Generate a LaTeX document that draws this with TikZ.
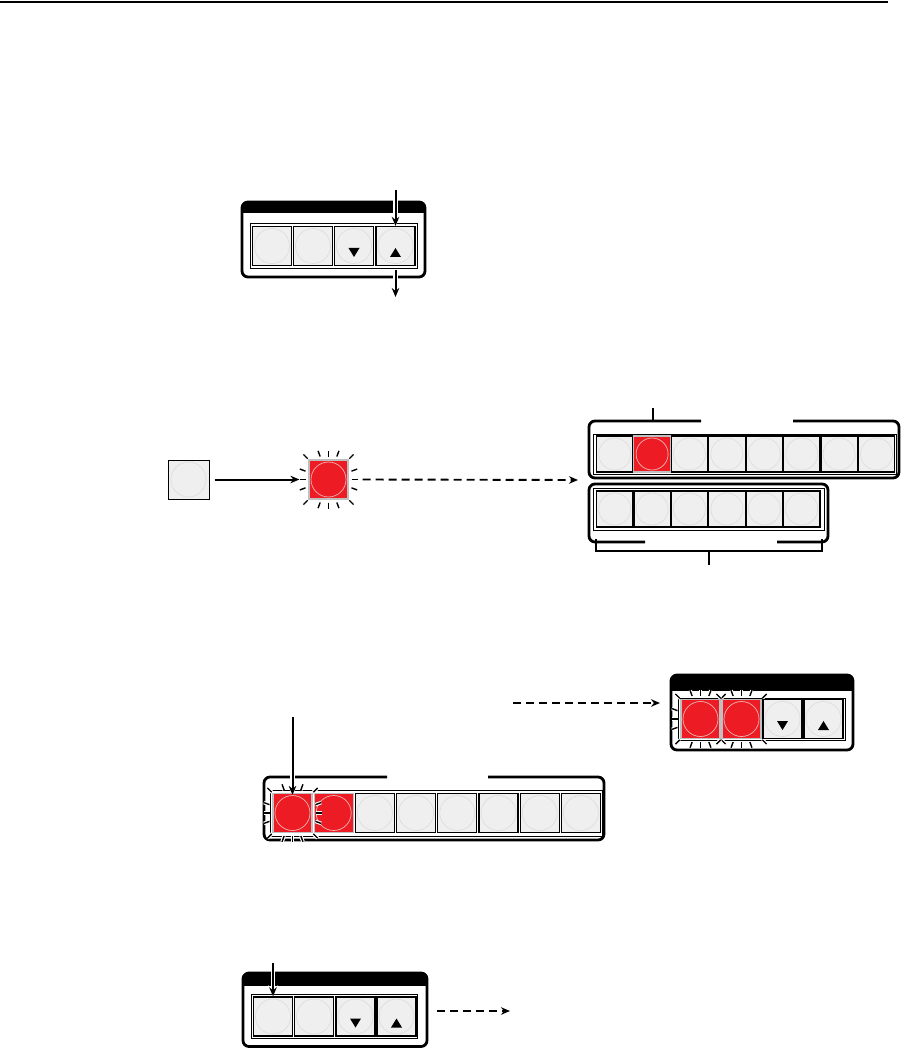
\documentclass[tikz,border=0pt]{standalone}
\usetikzlibrary{arrows.meta,calc}
\definecolor{bgray}{HTML}{EFEFEF}
\definecolor{cgray}{HTML}{DCDCDC}
\definecolor{bred}{HTML}{ED1C24}
\definecolor{cpink}{HTML}{F4B4B4}
\def\crad{17.5pt}
\tikzset{
 btn/.style={draw=black, line width=1.3pt, fill=bgray, minimum width=39pt, minimum height=39pt, inner sep=0pt,
   path picture={\draw[cgray, line width=0.6pt] (path picture bounding box.center) circle (\crad);}},
 rbtn/.style={draw=black!25, line width=1.2pt, fill=bred, minimum width=39pt, minimum height=39pt, inner sep=0pt,
   path picture={\draw[cpink, line width=0.7pt] (path picture bounding box.center) circle (\crad);}},
 frame/.style={line width=2.8pt, rounded corners=6pt},
 thinframe/.style={line width=0.9pt},
 arr/.style={line width=2pt, -{Stealth[length=9pt,width=7.5pt]}},
 harr/.style={arr, preaction={draw=white, line width=4.5pt, -{Stealth[length=11pt,width=10pt]}}},
 darr/.style={line width=1.9pt, dash pattern=on 8pt off 5pt, -{Stealth[length=9pt,width=7.5pt]}},
 ray/.style={line width=1.4pt, preaction={draw=white, line width=3.6pt}},
 leader/.style={line width=1.7pt},
}
\newcommand\glowat[1]{%
 \foreach \a in {0,20,45,70,90,110,135,160,180,200,225,250,270,290,315,340}{%
   \pgfmathsetmacro\mm{max(abs(cos(\a)),abs(sin(\a)))}%
   \pgfmathsetmacro\ra{min(23/\mm,29.5)}%
   \pgfmathsetmacro\rb{\ra+6}%
   \draw[ray] ($(#1)+(\a:\ra pt)$) -- ($(#1)+(\a:\rb pt)$);
 }}
\newcommand\trdown[1]{\fill ($(#1)+(-5.5,2)$) -- ++(11,0) -- ++(-5.5,9) -- cycle;}
\newcommand\trup[1]{\fill ($(#1)+(-5.5,11)$) -- ++(11,0) -- ++(-5.5,-9) -- cycle;}
\newcommand\hdrbox[5]{% x1 y1 x2 y2 headerbottom
 \begin{scope}
  \clip (#1,#2) rectangle (#3,#5);
  \fill[rounded corners=6pt] (#1,#2) rectangle (#3,#4);
 \end{scope}
 \draw[frame] (#1,#2) rectangle (#3,#4);}
\begin{document}
\begin{tikzpicture}[x=1pt,y=-1pt]
\useasboundingbox (0,0) rectangle (901,1048);
% top rule
\coordinate (r1) at (0,2);
\coordinate (r2) at (888,2);
\draw[line width=2.8pt] (r1) -- (r2);

% ---------- panel 1 ----------
\hdrbox{242}{202}{425}{277}{213}
\draw[thinframe] (250,223) rectangle (417,268);
\node[btn] (p1a) at (272,246) {};
\node[btn] (p1b) at (313,246) {};
\node[btn] (p1c) at (354,246) {};
\node[btn] (p1d) at (395.5,246) {};
\trdown{p1c}
\trup{p1d}
\coordinate (p1in) at (395.5,190);
\coordinate (p1out) at (395.5,297);
\draw[harr] (p1in) -- (p1d.north);
\draw[harr] ([yshift=-4pt]p1d.south) -- (p1out);

% ---------- panel 2 ----------
\node[btn, line width=1pt, minimum width=41pt] (p2a) at (188.5,479.5) {};
\path (328.5,479.5) coordinate (p2rc);
\glowat{p2rc}
\node[rbtn] (p2r) at (p2rc) {};
\draw[arr] ([xshift=5pt]p2a.east) -- ([xshift=-9pt]p2r.west);
\coordinate (p2tgt) at (578,480);
\draw[darr] ([xshift=14pt]p2r.east) -- (p2tgt);

\draw[frame] (701,421) -| (589,478) -| (899,421) -- (793,421);
\draw[thinframe] (593,434) rectangle (896,474);
\begin{scope}
\def\crad{16pt}
\foreach \i in {0,...,7}{
  \ifnum\i=1
    \node[rbtn, minimum width=36.5pt, minimum height=36pt] (u\i) at ({614.7+\i*37.4},454) {};
  \else
    \node[btn, minimum width=36.5pt, minimum height=36pt] (u\i) at ({614.7+\i*37.4},454) {};
  \fi
}
\end{scope}
\coordinate (t1) at (653,408);
\coordinate (t2) at (653,421);
\draw[leader] (t1) -- (t2);

\draw[frame] (645,542) -| (589,484) -| (828,542) -- (777,542);
\draw[thinframe] (593,488) rectangle (824,530);
\begin{scope}
\def\crad{16pt}
\foreach \i in {0,...,5}{
  \node[btn, minimum width=36.5pt, minimum height=36pt] (l\i) at ({614.7+\i*37.4},509) {};
}
\end{scope}
\coordinate (k1) at (596,539);
\coordinate (k2) at (596,551);
\coordinate (k3) at (822,551);
\coordinate (k4) at (822,539);
\coordinate (k5) at (709,551);
\coordinate (k6) at (709,565);
\draw[leader] (k1) -- (k2) -- (k3) -- (k4);
\draw[leader] (k5) -- (k6);

% ---------- panel 3 ----------
\coordinate (p3ds) at (513,703);
\coordinate (p3de) at (660,703);
\draw[darr] (p3ds) -- (p3de);

\hdrbox{671}{675}{853}{750}{690}
\draw[thinframe] (678,698) rectangle (845,740);
\coordinate (q1) at (700.5,719);
\coordinate (q2) at (741.5,719);
\glowat{q1}
\glowat{q2}
\node[rbtn] (p3r1) at (q1) {};
\node[rbtn] (p3r2) at (q2) {};
\node[btn] (p3r3) at (782.5,719) {};
\node[btn] (p3r4) at (823.5,719) {};
\trdown{p3r3}
\trup{p3r4}

\draw[frame] (387,777) -| (264,840) -| (604,777) -- (488,777);
\draw[thinframe] (270,790) rectangle (602,836);
\node[rbtn] (p3b2) at (333.7,813) {};
\foreach \i in {2,...,7}{
  \node[btn] (p3b\i x) at ({292.5+\i*41.2},813) {};
}
\coordinate (g1) at (292.5,813);
\glowat{g1}
\node[rbtn] (p3b1) at (g1) {};
\coordinate (p3in) at (292.5,717);
\draw[harr] (p3in) -- ([yshift=-2pt]p3b1.north);

% ---------- panel 4 ----------
\hdrbox{243}{973}{427}{1046.5}{985}
\draw[thinframe] (251,994) rectangle (417,1038);
\node[btn] (p4a) at (273,1016.5) {};
\node[btn] (p4b) at (314,1016.5) {};
\node[btn] (p4c) at (355.5,1016.5) {};
\node[btn] (p4d) at (396.5,1016.5) {};
\trdown{p4c}
\trup{p4d}
\coordinate (p4in) at (273,963);
\draw[harr] (p4in) -- (p4a.north);
\coordinate (p4ds) at (437,1011);
\coordinate (p4de) at (510,1011);
\draw[darr] (p4ds) -- (p4de);
\end{tikzpicture}
\end{document}
